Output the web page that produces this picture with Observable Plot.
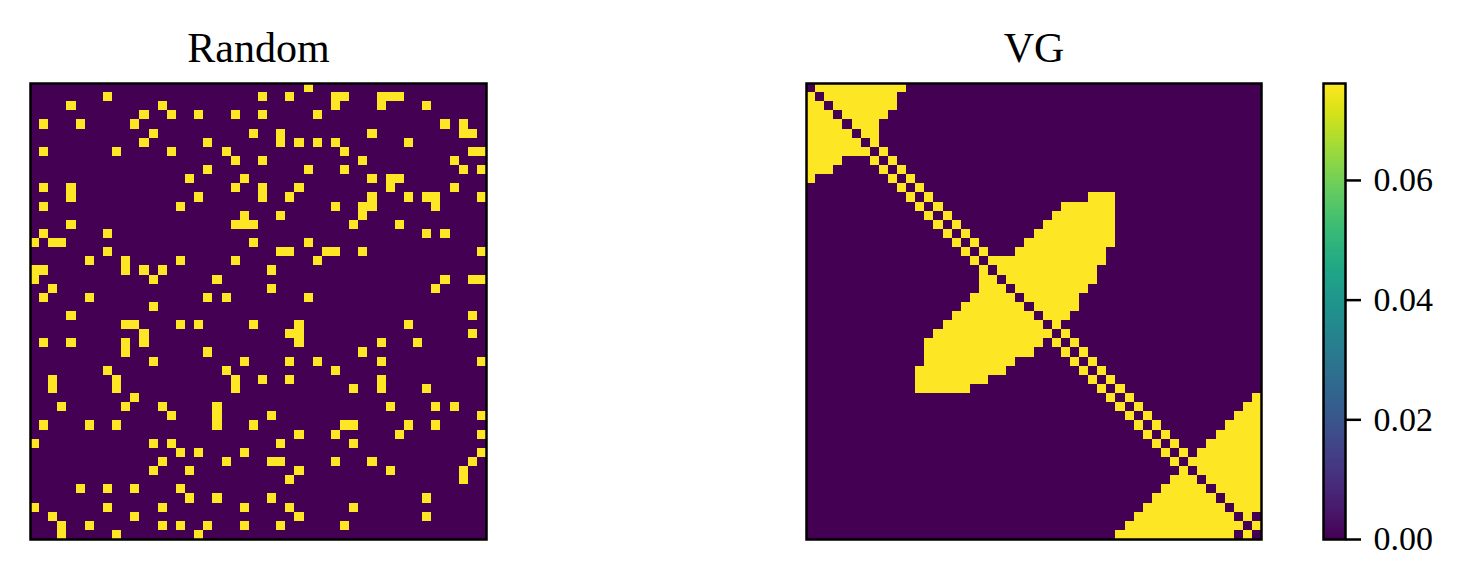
<!DOCTYPE html>
<html>
<head>
<meta charset="utf-8">
<script src="https://cdn.jsdelivr.net/npm/d3@7"></script>
<script src="https://cdn.jsdelivr.net/npm/@observablehq/plot@0.6"></script>
<style>
  body { margin: 0; background: #fff; }
  #fig { position: relative; width: 1467px; height: 586px; background: #fff; overflow: hidden; }
  #fig svg { position: absolute; top: 0; }
</style>
</head>
<body>
<div id="fig"></div>
<script>
// ---------------- data ----------------
const N = 50;                          // matrix size (nodes)
const nodes = d3.range(N);             // row / column categories
const titles = ["Random", "VG"];
const edgeValue = 0.0762;              // value of a non-zero cell
const colorMax = 0.0762;               // top of the colour bar
const colorTicks = [0, 0.02, 0.04, 0.06];

// Random matrix: for each row, the columns with a non-zero value
const randomRows = [
  [30],
  [8,25,28,33,34,38,39,40],
  [4,14,33,38,43],
  [12,15,18,22,25,31],
  [1,5,11,45,47],
  [13,24,27,37,47,48],
  [12,19,27,29,31,33,41],
  [1,9,15,21,34,48,49],
  [22,25,36,46],
  [19,30,34,47,49],
  [17,23,37,39,40],
  [1,4,22,25,29,39,46],
  [4,18,25,28,37,41,43,44,49],
  [1,16,33,36,37,44],
  [23,27,36],
  [4,22,23,24,35,40],
  [1,8,43,45],
  [0,2,3,24,30],
  [8,27,28,32,33,36,49],
  [6,10,16,22,31],
  [0,1,10,12,14,26],
  [0,13,20,45,48,49],
  [2,26,44],
  [1,6,19,21,30],
  [13],
  [4,48],
  [10,11,16,18,24,29,41],
  [12,28,29,48],
  [1,4,10,12,29,38,42],
  [10,19,36],
  [13,23,28,31,38,49],
  [8,21,33],
  [2,9,22,25,28,38],
  [2,9,22,35,38,43],
  [11],
  [3,10,14,20,39,44,46],
  [15,20,26,49],
  [1,6,9,20,24,34,35,41,44],
  [29,33,40,49],
  [0,13,15,27,35],
  [16,18,23,49],
  [14,21,26,27,33,37,48],
  [13,17,29,39,47],
  [28,47],
  [5,8,11,16],
  [17,20,26,43],
  [0,8,14,23,28,35],
  [2,11,29,43],
  [3,6,14,16,19,23,27,34],
  [3,9,18]
];

// VG matrix: for each row, inclusive runs [from, to] of non-zero columns
const vgRuns = [
  [[1,10]],
  [[0,0],[2,9]],
  [[0,1],[3,9]],
  [[0,2],[4,8]],
  [[0,3],[5,7]],
  [[0,4],[6,7]],
  [[0,5],[7,7]],
  [[0,6],[8,8]],
  [[0,3],[7,7],[9,9]],
  [[0,2],[8,8],[10,10]],
  [[0,0],[9,9],[11,11]],
  [[10,10],[12,12]],
  [[11,11],[13,13],[31,33]],
  [[12,12],[14,14],[28,33]],
  [[13,13],[15,15],[27,33]],
  [[14,14],[16,16],[26,33]],
  [[15,15],[17,17],[25,33]],
  [[16,16],[18,18],[24,33]],
  [[17,17],[19,19],[23,32]],
  [[18,18],[20,32]],
  [[19,19],[21,31]],
  [[19,20],[22,31]],
  [[19,21],[23,30]],
  [[18,22],[24,29]],
  [[17,23],[25,29]],
  [[16,24],[26,28]],
  [[15,25],[27,27]],
  [[14,26],[28,28]],
  [[13,25],[27,27],[29,29]],
  [[13,24],[28,28],[30,30]],
  [[13,22],[29,29],[31,31]],
  [[12,21],[30,30],[32,32]],
  [[12,19],[31,31],[33,33]],
  [[12,17],[32,32],[34,34]],
  [[33,33],[35,35],[49,49]],
  [[34,34],[36,36],[48,49]],
  [[35,35],[37,37],[47,49]],
  [[36,36],[38,38],[46,49]],
  [[37,37],[39,39],[45,49]],
  [[38,38],[40,40],[44,49]],
  [[39,39],[41,41],[43,49]],
  [[40,40],[42,49]],
  [[41,41],[43,49]],
  [[40,42],[44,49]],
  [[39,43],[45,49]],
  [[38,44],[46,49]],
  [[37,45],[47,49]],
  [[36,46],[48,48]],
  [[35,47],[49,49]],
  [[34,46],[48,48]]
];

// ---------------- build tables ----------------
function tableFromLists(rows) {
  const out = [];
  nodes.forEach(r => {
    const set = new Set(rows[r]);
    nodes.forEach(c => out.push({row: r, col: c, value: set.has(c) ? edgeValue : 0}));
  });
  return out;
}
const vgRows = vgRuns.map(runs => runs.flatMap(([a, b]) => d3.range(a, b + 1)));
const randomCells = tableFromLists(randomRows);
const vgCells = tableFromLists(vgRows);

const FONT = "'Liberation Serif', 'DejaVu Serif', serif";
const colorScale = {type: "linear", scheme: "viridis", domain: [0, colorMax]};
const fig = document.getElementById("fig");

function panel(cells, title, left, width, mL, mR) {
  const svg = Plot.plot({
    width, height: 586,
    marginLeft: mL, marginRight: mR, marginTop: 83, marginBottom: 47,
    x: {type: "band", domain: nodes, padding: 0, round: false, axis: null},
    y: {type: "band", domain: nodes, padding: 0, round: false, axis: null},
    color: colorScale,
    style: {background: "transparent", fontFamily: FONT, color: "black"},
    marks: [
      Plot.cell(cells, {x: "col", y: "row", fill: "value", inset: 0, shapeRendering: "crispEdges"}),
      Plot.frame({stroke: "black", strokeWidth: 2.5}),
      Plot.text([title], {frameAnchor: "top", lineAnchor: "bottom", dy: -22, fontSize: 42, fill: "black", fontFamily: FONT})
    ]
  });
  svg.style.left = left + "px";
  fig.appendChild(svg);
}

panel(randomCells, titles[0], 0, 520, 30, 34);
panel(vgCells, titles[1], 776, 520, 30, 35);

// ---------------- colour bar ----------------
const slices = d3.range(300).map(i => ({
  y1: colorMax * i / 300, y2: colorMax * (i + 1) / 300, v: colorMax * (i + 0.5) / 300
}));
const cbar = Plot.plot({
  width: 167, height: 586,
  marginLeft: 23, marginRight: 122, marginTop: 83, marginBottom: 47,
  x: {domain: [0, 1], axis: null},
  y: {domain: [0, colorMax], axis: null, label: null},
  color: colorScale,
  style: {background: "transparent", fontFamily: FONT, color: "black"},
  marks: [
    Plot.rect(slices, {x1: 0, x2: 1, y1: "y1", y2: "y2", fill: "v", shapeRendering: "crispEdges"}),
    Plot.frame({stroke: "black", strokeWidth: 2.5}),
    Plot.axisY(colorTicks, {anchor: "right", tickSize: 15, tickPadding: 13, strokeWidth: 2.5,
      tickFormat: d3.format(".2f"), fontSize: 34, label: null, fontFamily: FONT})
  ]
});
cbar.style.left = "1300px";
fig.appendChild(cbar);
</script>
</body>
</html>
